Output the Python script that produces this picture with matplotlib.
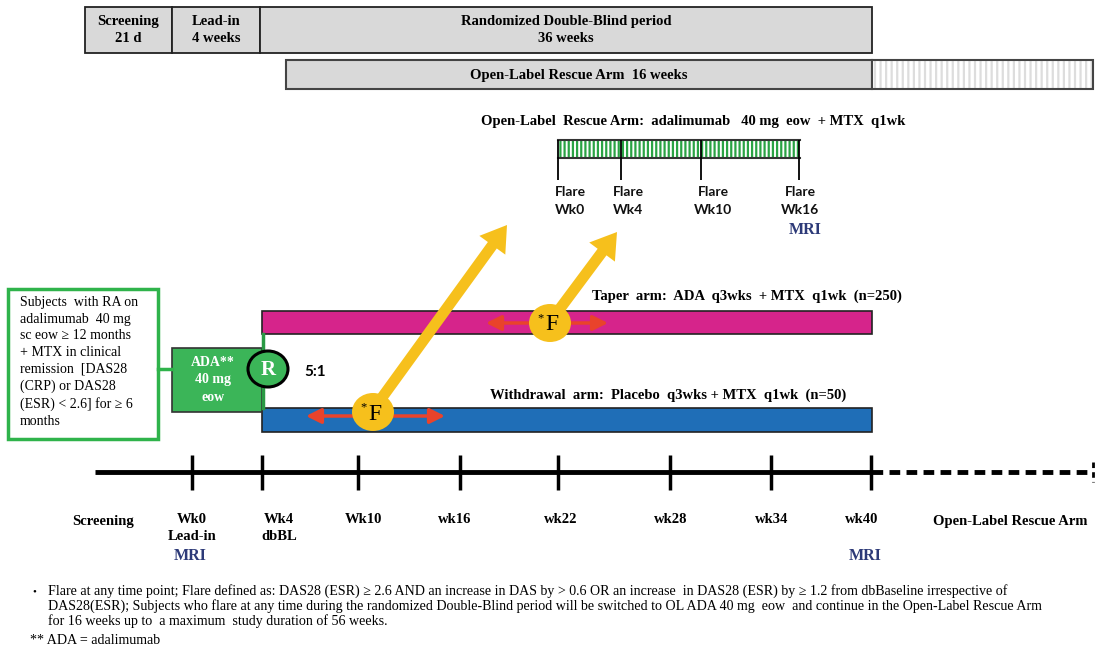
import numpy as np
import matplotlib
matplotlib.use("Agg")
import matplotlib.pyplot as plt
from matplotlib.patches import Rectangle, Ellipse, FancyArrow

plt.rcParams['hatch.linewidth'] = 1.6

# ---- data / labels ----
phase_labels = ["Screening\n21 d", "Lead-in\n4 weeks", "Randomized Double-Blind period\n36 weeks"]
phase_edges = [85, 172, 260, 872]

timeline_labels = ["Wk0\nLead-in", "Wk4\ndbBL", "Wk10", "wk16", "wk22", "wk28", "wk34", "wk40"]
timeline_ticks = [192, 262, 358, 460, 558, 670, 771, 871]
timeline_label_x = [192, 279, 363, 455, 561, 671, 772, 862]
mri_x = [190, 865]

rescue_labels = ["Flare\nWk0", "Flare\nWk4", "Flare\nWk10", "Flare\nWk16"]
rescue_ticks = [558, 621, 701, 799]
rescue_label_x = [570, 628, 713, 800]

taper_label = "Taper  arm:  ADA  q3wks  + MTX  q1wk  (n=250)"
withdraw_label = "Withdrawal  arm:  Placebo  q3wks + MTX  q1wk  (n=50)"
criteria = ("Subjects  with RA on\nadalimumab  40 mg\nsc eow \u2265 12 months\n+ MTX in clinical\n"
            "remission  [DAS28\n(CRP) or DAS28\n(ESR) < 2.6] for \u2265 6\nmonths")
footnote = ("Flare at any time point; Flare defined as: DAS28 (ESR) \u2265 2.6 AND an increase in DAS by > 0.6 OR an increase  in DAS28 (ESR) by \u2265 1.2 from dbBaseline irrespective of\n"
            "DAS28(ESR); Subjects who flare at any time during the randomized Double-Blind period will be switched to OL ADA 40 mg  eow  and continue in the Open-Label Rescue Arm\n"
            "for 16 weeks up to  a maximum  study duration of 56 weeks.")

SERIF = "Liberation Serif"
SANS = "Lato"
GRAY = "#d9d9d9"
MAGENTA = "#d6248b"
BLUE = "#1f6eb7"
GREEN = "#3bb558"
YELLOW = "#f6c01c"
RED = "#e9432b"
NAVY = "#2d3a78"

fig = plt.figure(figsize=(10.95, 6.5), dpi=100)
ax = fig.add_axes([0, 0, 1, 1])
ax.set_xlim(0, 1095)
ax.set_ylim(650, 0)
ax.axis('off')

# top phase boxes
for i, lab in enumerate(phase_labels):
    x0, x1 = phase_edges[i], phase_edges[i + 1]
    ax.add_patch(Rectangle((x0, 7), x1 - x0, 46, facecolor=GRAY, edgecolor="#222222", lw=1.3))
    ax.text((x0 + x1) / 2, 30, lab, ha='center', va='center', fontsize=10.5,
            fontweight='bold', family=SERIF, linespacing=1.4)

# open-label rescue band
ax.add_patch(Rectangle((286, 60), 586, 29, facecolor=GRAY, edgecolor="#444444", lw=1.5))
ax.text(579, 75, "Open-Label Rescue Arm  16 weeks", ha='center', va='center', fontsize=10.5,
        fontweight='bold', family=SERIF)
ax.add_patch(Rectangle((872, 60), 221, 29, facecolor='white', edgecolor="#dddddd", hatch='|||', lw=0))
ax.add_patch(Rectangle((872, 60), 221, 29, facecolor='none', edgecolor="#444444", lw=1.5))

# rescue arm detail
ax.text(693, 121, "Open-Label  Rescue Arm:  adalimumab   40 mg  eow  + MTX  q1wk", ha='center',
        va='center', fontsize=10.5, fontweight='bold', family=SERIF)
ax.add_patch(Rectangle((558, 140), 242, 18, facecolor='white', edgecolor="#2aa344", hatch='||||', lw=0))
ax.plot([558, 800], [140, 140], color='#333333', lw=1.5)
ax.plot([558, 800], [158, 158], color='#333333', lw=1.5)
ax.vlines(rescue_ticks, 140, 180, color='black', lw=1.3)
for x, lab in zip(rescue_label_x, rescue_labels):
    ax.text(x, 201, lab, ha='center', va='center', fontsize=10, fontweight='bold',
            family=SANS, linespacing=1.55, color='#111111')
ax.text(805, 230, "MRI", ha='center', va='center', fontsize=11.5, fontweight='bold',
        family=SERIF, color=NAVY)

# arms
ax.add_patch(Rectangle((262, 311), 610, 23, facecolor=MAGENTA, edgecolor='#222222', lw=1.2))
ax.add_patch(Rectangle((262, 408), 610, 24, facecolor=BLUE, edgecolor='#222222', lw=1.2))
ax.text(747, 296, taper_label, ha='center', va='center', fontsize=10.5, fontweight='bold', family=SERIF)
ax.text(668, 395, withdraw_label, ha='center', va='center', fontsize=10.5, fontweight='bold', family=SERIF)

# criteria box and ADA box
ax.add_patch(Rectangle((8, 289), 150, 150, facecolor='white', edgecolor='#2fb34b', lw=2.5))
ax.text(20, 362, criteria, ha='left', va='center', fontsize=10, family=SERIF, linespacing=1.38)
ax.plot([158, 172], [369, 369], color='#2fb34b', lw=2.5)
ax.add_patch(Rectangle((172, 348), 90, 64, facecolor=GREEN, edgecolor='#333333', lw=1.2))
ax.text(213, 380, "ADA**\n40 mg\neow", ha='center', va='center', fontsize=10, fontweight='bold',
        family=SERIF, color='white', linespacing=1.45)
ax.plot([263, 263], [334, 408], color='#2a9a44', lw=2.5)
ax.add_patch(Ellipse((268, 369), 40, 36, facecolor=GREEN, edgecolor='black', lw=2.2, zorder=5))
ax.text(268, 370, "R", ha='center', va='center', fontsize=15, family=SERIF, color='white',
        fontweight='bold', zorder=6)
ax.text(315, 372, "5:1", ha='center', va='center', fontsize=11, fontweight='bold', family=SANS)

# flare arrows
for (x0, y0, x1, y1) in [(373, 410, 507, 225), (550, 322, 617, 232)]:
    ax.add_patch(FancyArrow(x0, y0, x1 - x0, y1 - y0, width=11, head_width=32, head_length=25,
                            length_includes_head=True, facecolor=YELLOW, edgecolor='none', zorder=3))
for (xa, xb, y) in [(306, 445, 416), (486, 608, 323)]:
    ax.annotate("", xy=(xb, y), xytext=(xa, y),
                arrowprops=dict(arrowstyle='<|-|>,head_length=0.5,head_width=0.25', color=RED, lw=2.5,
                                mutation_scale=18, shrinkA=0, shrinkB=0), zorder=4)
for (cx, cy) in [(373, 412), (550, 323)]:
    ax.add_patch(Ellipse((cx, cy), 42, 38, facecolor=YELLOW, edgecolor='none', zorder=5))
    ax.text(cx + 2, cy + 2, "F", ha='center', va='center', fontsize=17, family=SERIF, zorder=6)
    ax.text(cx - 9, cy - 5, "*", ha='center', va='center', fontsize=9, family=SERIF, zorder=6)

# timeline
ax.plot([95, 872], [472, 472], color='black', lw=3.5, solid_capstyle='butt')
ax.plot([872, 1093], [472, 472], color='black', lw=3.5, linestyle=(0, (2.2, 1.3)))
ax.plot([1093, 1093], [462, 482], color='black', lw=2, linestyle=(0, (2, 1.5)))
ax.vlines(timeline_ticks, 455, 490, color='black', lw=2.5)
ax.text(103, 521, "Screening", ha='center', va='center', fontsize=10.5, fontweight='bold', family=SERIF)
ax.text(1010, 521, "Open-Label Rescue Arm", ha='center', va='center', fontsize=10.5,
        fontweight='bold', family=SERIF)
for x, lab in zip(timeline_label_x, timeline_labels):
    ax.text(x, 513, lab, ha='center', va='top', fontsize=10.5, fontweight='bold', family=SERIF,
            linespacing=1.4)
for x in mri_x:
    ax.text(x, 556, "MRI", ha='center', va='center', fontsize=11.5, fontweight='bold',
            family=SERIF, color=NAVY)

# footnotes
ax.text(34, 592, "\u2022", ha='center', va='center', fontsize=8, family=SERIF)
ax.text(48, 584, footnote, ha='left', va='top', fontsize=10.1, family=SERIF, linespacing=1.1)
ax.text(30, 640, "** ADA = adalimumab", ha='left', va='center', fontsize=10.1, family=SERIF)

fig.savefig("out.png", dpi=100)
